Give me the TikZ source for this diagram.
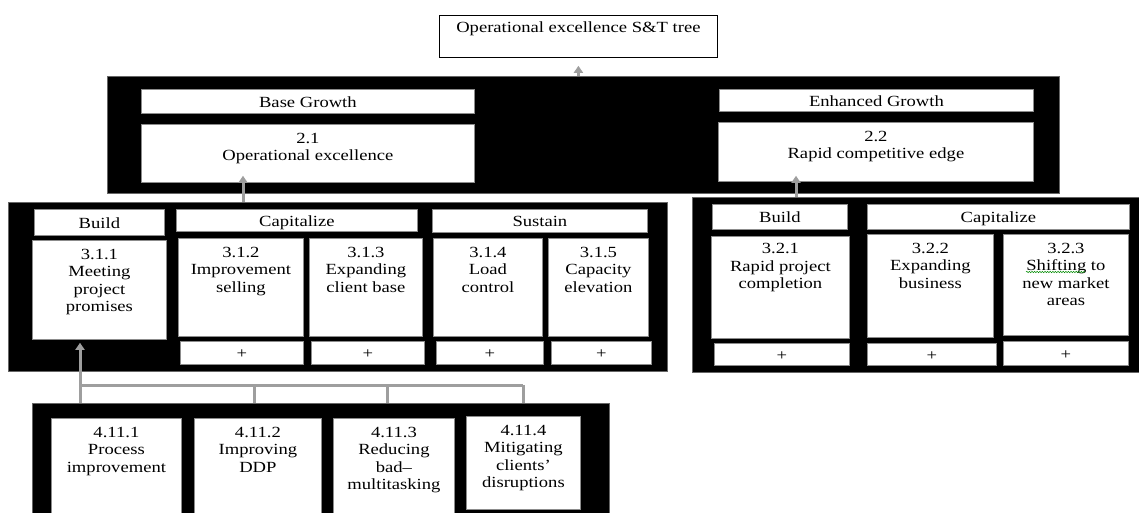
\documentclass[tikz,border=0pt]{standalone}
\usepackage{fontspec}
\setmainfont[FakeStretch=1.2]{Liberation Serif}
\usetikzlibrary{arrows.meta,decorations.pathmorphing}
\newcommand{\celltext}[4][8.5pt]{\parbox[c][#3][t]{#2}{\centering\vspace*{#1}#4\par}}

\begin{document}
\begin{tikzpicture}[x=1pt,y=-1pt,
        font=\fontsize{15.5}{17.5}\selectfont,
        panel/.style={fill=black,draw=black!60,line width=0.8pt,anchor=north west,inner sep=0pt},
        card/.style={fill=white,draw=black!45,line width=0.8pt,anchor=north west,inner sep=0pt},
        tag/.style={card,text height=12pt,text depth=0pt},
        link/.style={draw=black!38,line width=3pt,-{Triangle[length=7pt,width=9pt]}},
        wire/.style={draw=black!38,line width=3pt}]
        \useasboundingbox (0,0) rectangle (1139,512);
        \clip (0,0) rectangle (1139,512);

        % level 1
        \node[card,draw=black] (top) at (439,15) {\celltext[6.5pt]{278pt}{42pt}{Operational excellence S\&T tree}};

        % level 2
        \node[panel,minimum width=952pt,minimum height=117pt] (lvl2) at (107,76) {};
        \node[tag,minimum width=333pt,minimum height=24pt] (base) at (141,89) {Base Growth};
        \node[card] (n21) at (141,124) {\celltext{333pt}{58pt}{2.1\\Operational excellence}};
        \node[tag,minimum width=314pt,minimum height=22pt] (enh) at (719,89) {Enhanced Growth};
        \node[card] (n22) at (718,122) {\celltext{315pt}{59pt}{2.2\\Rapid competitive edge}};

        % level 3, base growth
        \node[panel,minimum width=659pt,minimum height=169pt] (lvl3a) at (8,202) {};
        \node[tag,minimum width=130pt,minimum height=26pt] (builda) at (34,209) {Build};
        \node[tag,minimum width=241pt,minimum height=22pt,yshift=-1pt] (capa) at (176,208) {Capitalize};
        \node[tag,minimum width=215pt,minimum height=23pt] (sust) at (432,209) {Sustain};
        \node[card] (n311) at (32,240) {\celltext{134pt}{99pt}{3.1.1\\Meeting\\project\\promises}};
        \node[card] (n312) at (178,238) {\celltext{125pt}{98pt}{3.1.2\\Improvement\\selling}};
        \node[card] (n313) at (309,238) {\celltext{113pt}{98pt}{3.1.3\\Expanding\\client base}};
        \node[card] (n314) at (433,238) {\celltext{109pt}{98pt}{3.1.4\\Load\\control}};
        \node[card] (n315) at (548,238) {\celltext{100pt}{98pt}{3.1.5\\Capacity\\elevation}};
        \node[tag,minimum width=123pt,minimum height=23pt] (p312) at (180,341) {+};
        \node[tag,minimum width=113pt,minimum height=23pt] (p313) at (311,341) {+};
        \node[tag,minimum width=107pt,minimum height=23pt] (p314) at (436,341) {+};
        \node[tag,minimum width=100pt,minimum height=23pt] (p315) at (551,341) {+};

        % level 3, enhanced growth
        \node[panel,minimum width=460pt,minimum height=175pt] (lvl3b) at (692,197) {};
        \node[tag,minimum width=135pt,minimum height=25pt] (buildb) at (712,204) {Build};
        \node[tag,minimum width=262pt,minimum height=25pt] (capb) at (867,204) {Capitalize};
        \node[card] (n321) at (711,236) {\celltext[7pt]{138pt}{102pt}{3.2.1\\Rapid project\\completion}};
        \node[card] (n322) at (867,234) {\celltext{126pt}{103pt}{3.2.2\\Expanding\\business}};
        \node[card] (n323) at (1003,234) {\celltext{125pt}{101pt}{3.2.3\\Shifting to\\new market\\areas}};
        \node[tag,minimum width=135pt,minimum height=22pt] (p321) at (714,343) {+};
        \node[tag,minimum width=129pt,minimum height=22pt] (p322) at (867,343) {+};
        \node[tag,minimum width=125pt,minimum height=24pt] (p323) at (1003,341) {+};
        \draw[green!55!black,line width=0.5pt,decorate,decoration={snake,amplitude=0.7pt,segment length=2.6pt}]
            (1026,272) -- (1085,272);

        % level 4
        \node[panel,minimum width=577pt,minimum height=130pt] (lvl4) at (32,403) {};
        \node[card] (n4111) at (51,418) {\celltext{130pt}{110pt}{4.11.1\\Process\\improvement}};
        \node[card] (n4112) at (194,418) {\celltext{127pt}{110pt}{4.11.2\\Improving\\DDP}};
        \node[card] (n4113) at (333,418) {\celltext{121pt}{110pt}{4.11.3\\Reducing\\bad--\\multitasking}};
        \node[card] (n4114) at (466,416) {\celltext{114pt}{93pt}{4.11.4\\Mitigating\\clients'\\disruptions}};

        % connectors
        \draw[link,shorten >=8pt] (top.south |- lvl2.north) -- (top.south);
        \coordinate (a21) at (243,202);
        \draw[link,shorten >=-7pt] (a21) -- (a21 |- n21.south);
        \coordinate (a22) at (796,197);
        \draw[link,shorten >=-6pt] (a22) -- (a22 |- n22.south);
        \foreach \p/\q in {d1/80,d2/254,d3/387,d4/523}
            \coordinate (\p) at (\q,385);
        \draw[wire] (d1) -- (d4);
        \foreach \p in {d1,d2,d3,d4}
            \draw[wire] (\p) -- (\p |- lvl4.north);
        \draw[link,shorten >=3pt] (d1) -- (d1 |- n311.south);
\end{tikzpicture}
\end{document}
